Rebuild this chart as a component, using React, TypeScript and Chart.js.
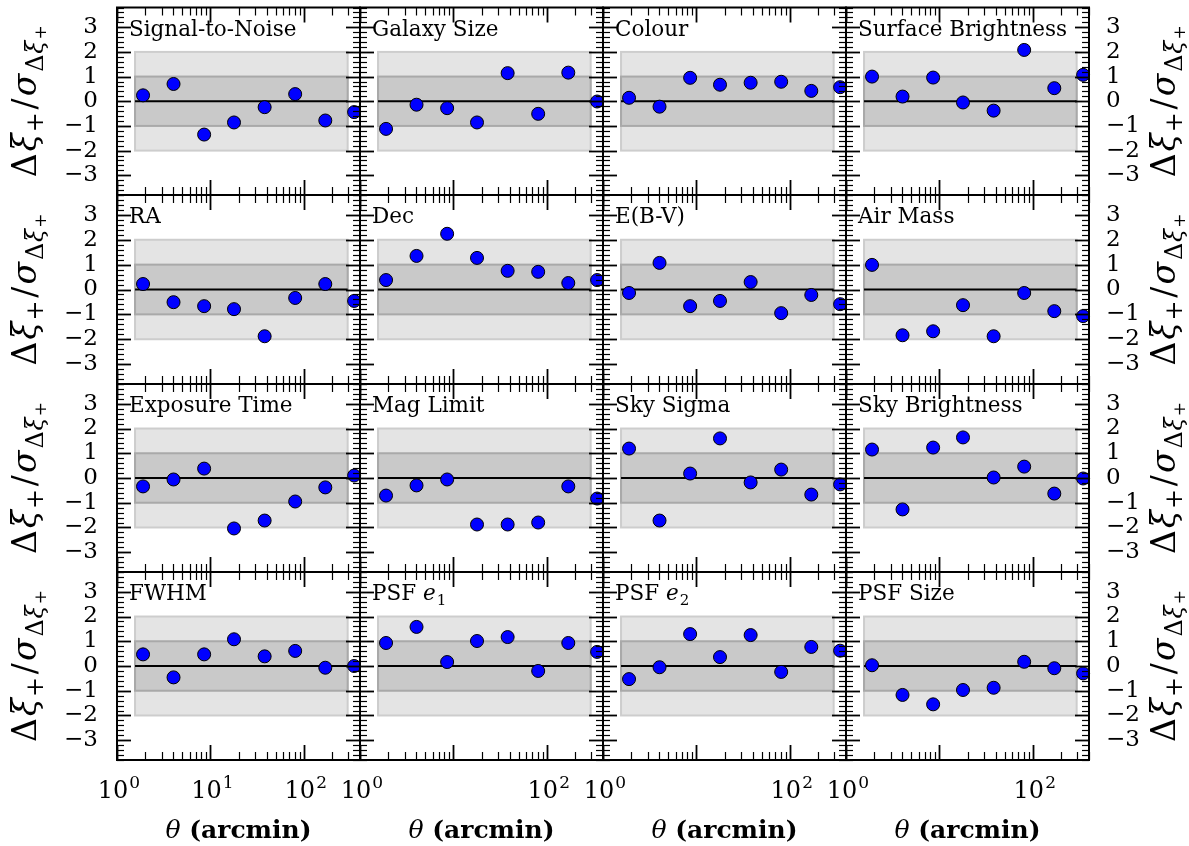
import React, { useEffect, useRef } from 'react';
import { Chart, registerables } from 'chart.js';

Chart.register(...registerables);

// ---------------- data ----------------
const THETA = [1.9, 4.03, 8.57, 17.9, 38.1, 80.9, 170, 346];

const PANEL_TITLES = [
  'Signal-to-Noise', 'Galaxy Size', 'Colour', 'Surface Brightness',
  'RA', 'Dec', 'E(B-V)', 'Air Mass',
  'Exposure Time', 'Mag Limit', 'Sky Sigma', 'Sky Brightness',
  'FWHM', 'PSF e₁', 'PSF e₂', 'PSF Size',
];

const SIGNAL_TO_NOISE = [0.24, 0.7, -1.35, -0.86, -0.24, 0.29, -0.78, -0.44];
const GALAXY_SIZE = [-1.12, -0.14, -0.28, -0.86, 1.14, -0.51, 1.16, -0.01];
const COLOUR = [0.14, -0.22, 0.95, 0.67, 0.75, 0.79, 0.42, 0.57];
const SURFACE_BRIGHTNESS = [1.0, 0.19, 0.96, -0.05, -0.38, 2.08, 0.53, 1.07];
const RA = [0.22, -0.51, -0.67, -0.79, -1.88, -0.34, 0.22, -0.46];
const DEC = [0.38, 1.35, 2.24, 1.27, 0.75, 0.71, 0.26, 0.38];
const EBV = [-0.14, 1.07, -0.67, -0.46, 0.3, -0.95, -0.22, -0.59];
const AIR_MASS = [0.99, -1.84, -1.68, -0.63, -1.88, -0.14, -0.87, -1.07];
const EXPOSURE_TIME = [-0.34, -0.06, 0.38, -2.04, -1.72, -0.95, -0.38, 0.1];
const MAG_LIMIT = [-0.71, -0.3, -0.06, -1.88, -1.88, -1.8, -0.34, -0.83];
const SKY_SIGMA = [1.19, -1.72, 0.18, 1.6, -0.18, 0.34, -0.67, -0.26];
const SKY_BRIGHTNESS = [1.15, -1.27, 1.23, 1.64, 0.02, 0.46, -0.63, -0.02];
const FWHM = [0.47, -0.46, 0.47, 1.08, 0.39, 0.61, -0.07, 0.0];
const PSF_E1 = [0.93, 1.58, 0.16, 1.01, 1.17, -0.2, 0.93, 0.57];
const PSF_E2 = [-0.53, -0.05, 1.29, 0.36, 1.25, -0.24, 0.77, 0.62];
const PSF_SIZE = [0.03, -1.17, -1.55, -0.97, -0.88, 0.17, -0.09, -0.3];

const PANEL_VALUES = [
  SIGNAL_TO_NOISE, GALAXY_SIZE, COLOUR, SURFACE_BRIGHTNESS,
  RA, DEC, EBV, AIR_MASS,
  EXPOSURE_TIME, MAG_LIMIT, SKY_SIGMA, SKY_BRIGHTNESS,
  FWHM, PSF_E1, PSF_E2, PSF_SIZE,
];

const X_RANGE = [1, 400];
const Y_RANGE = [-3.8, 3.8];
const Y_TICKS = [-3, -2, -1, 0, 1, 2, 3];
const Y_TICK_LABELS = ['−3', '−2', '−1', '0', '1', '2', '3'];
const Y_MINOR_STEP = 0.2;
const X_MAJOR = [1, 10, 100];
const X_TICK_BASE = '10';
const X_TICK_EXP_FIRST = ['0', '1', '2'];
const X_TICK_EXP_OTHER = ['0', '', '2'];
const BAND_X = [1.56, 295];
const BAND_LEVELS = [2, 1];
const ZERO_LEVEL = 0;
const X_TITLE = ['θ', ' (arcmin)'];

// ---------------- layout / style ----------------
const W = 1189;
const H = 846;
const COL_EDGES = [117, 360, 603, 846, 1089];
const ROW_EDGES = [7, 195, 384, 572, 760];
const Y_AXIS_W = 70;
const FONT = "'DejaVu Serif'";
const BAND_FILL = ['#e4e4e4', '#c9c9c9'];
const BAND_EDGE = ['#cdcdcd', '#a9a9a9'];

const SUBS: Record<string, string> = { '₁': '1', '₂': '2' };

function drawTitle(ctx: CanvasRenderingContext2D, text: string, x: number, y: number, size: number) {
  const chars = Array.from(text);
  let cx = x;
  let run = '';
  const flush = () => {
    if (!run) return;
    ctx.font = `${size}px ${FONT}`;
    ctx.fillText(run, cx, y);
    cx += ctx.measureText(run).width;
    run = '';
  };
  for (let i = 0; i < chars.length; i++) {
    const ch = chars[i];
    if (SUBS[ch]) {
      flush();
      ctx.font = `${size * 0.7}px ${FONT}`;
      ctx.fillText(SUBS[ch], cx + 1, y + size * 0.22);
      cx += ctx.measureText(SUBS[ch]).width + 1;
    } else if (i + 1 < chars.length && SUBS[chars[i + 1]]) {
      flush();
      ctx.font = `italic ${size}px ${FONT}`;
      ctx.fillText(ch, cx, y);
      cx += ctx.measureText(ch).width;
    } else {
      run += ch;
    }
  }
  flush();
}

function drawYTitle(ctx: CanvasRenderingContext2D, bx: number, cy: number) {
  const F = 33;
  const pieces = [
    { t: 'Δ', s: F, it: false, dy: 0, pre: 0 },
    { t: 'ξ', s: F, it: true, dy: 0, pre: 2 },
    { t: '+', s: F * 0.72, it: false, dy: F * 0.2, pre: 1 },
    { t: '/', s: F, it: false, dy: 0, pre: 3 },
    { t: 'σ', s: F, it: true, dy: 0, pre: 2 },
    { t: 'Δ', s: F * 0.72, it: false, dy: F * 0.2, pre: 2 },
    { t: 'ξ', s: F * 0.72, it: true, dy: F * 0.2, pre: 1 },
    { t: '+', s: F * 0.52, it: false, dy: F * 0.3, pre: 1 },
  ];
  ctx.save();
  ctx.translate(bx, cy);
  ctx.rotate(-Math.PI / 2);
  ctx.textBaseline = 'alphabetic';
  ctx.textAlign = 'left';
  let total = 0;
  const widths = pieces.map((p) => {
    ctx.font = `${p.it ? 'italic ' : ''}${p.s}px ${FONT}`;
    const w = ctx.measureText(p.t).width + p.pre;
    total += w;
    return w;
  });
  let x = -total / 2;
  pieces.forEach((p, i) => {
    ctx.font = `${p.it ? 'italic ' : ''}${p.s}px ${FONT}`;
    ctx.fillText(p.t, x + p.pre, p.dy);
    x += widths[i];
  });
  ctx.restore();
}

function Panel({ index }: { index: number }) {
  const ref = useRef<HTMLCanvasElement | null>(null);
  useEffect(() => {
    const r = Math.floor(index / 4);
    const c = index % 4;
    const left = COL_EDGES[c];
    const right = COL_EDGES[c + 1];
    const top = ROW_EDGES[r];
    const bottom = ROW_EDGES[r + 1];
    const values = PANEL_VALUES[index];
    const xExps = c === 0 ? X_TICK_EXP_FIRST : X_TICK_EXP_OTHER;
    const yLabelled = c === 0 || c === 3;
    const xLabelled = r === 3;
    const yW = yLabelled ? Y_AXIS_W : 0;

    const deco = {
      id: 'deco' + index,
      beforeDatasetsDraw(chart: any) {
        const { ctx, scales } = chart;
        const xs = scales.x;
        const ys = scales.y;
        const x0 = xs.getPixelForValue(BAND_X[0]);
        const x1 = xs.getPixelForValue(BAND_X[1]);
        ctx.save();
        BAND_LEVELS.forEach((lv, i) => {
          const yt = ys.getPixelForValue(lv);
          const yb = ys.getPixelForValue(-lv);
          ctx.fillStyle = BAND_FILL[i];
          ctx.fillRect(x0, yt, x1 - x0, yb - yt);
          ctx.strokeStyle = BAND_EDGE[i];
          ctx.lineWidth = 2;
          ctx.strokeRect(x0, yt, x1 - x0, yb - yt);
        });
        ctx.restore();
      },
      afterDraw(chart: any) {
        const { ctx, scales, chartArea } = chart;
        const xs = scales.x;
        const ys = scales.y;
        const { left: L, right: R, top: T, bottom: B } = chartArea;
        ctx.save();
        ctx.strokeStyle = '#000';
        ctx.lineCap = 'butt';
        const line = (a: number, b: number, c2: number, d: number, w: number) => {
          ctx.lineWidth = w;
          ctx.beginPath();
          ctx.moveTo(a, b);
          ctx.lineTo(c2, d);
          ctx.stroke();
        };
        // y ticks (major and minor, inward on both sides)
        const nMinor = Math.round((Y_RANGE[1] - Y_RANGE[0]) / Y_MINOR_STEP);
        for (let k = 0; k <= nMinor; k++) {
          const v = +(Y_RANGE[0] + k * Y_MINOR_STEP).toFixed(3);
          const isMajor = Y_TICKS.some((t) => Math.abs(t - v) < 1e-6);
          const py = Math.round(ys.getPixelForValue(v)) + 0.5;
          const len = isMajor ? 14 : 7;
          const w = isMajor ? 1.8 : 1.2;
          line(L, py, L + len, py, w);
          line(R, py, R - len, py, w);
        }
        // x ticks (log major + minor, inward top and bottom)
        const xt: { v: number; major: boolean }[] = [];
        X_MAJOR.forEach((d) => {
          xt.push({ v: d, major: true });
          for (let k = 2; k <= 9; k++) if (k * d <= X_RANGE[1]) xt.push({ v: k * d, major: false });
        });
        xt.forEach(({ v, major }) => {
          const px = Math.round(xs.getPixelForValue(v)) + 0.5;
          const len = major ? 15 : 8;
          const w = major ? 1.8 : 1.2;
          line(px, B, px, B - len, w);
          line(px, T, px, T + len, w);
        });
        // spines
        ctx.lineWidth = 2;
        ctx.strokeRect(L, T, R - L, B - T);
        // panel title
        ctx.fillStyle = '#000';
        ctx.textAlign = 'left';
        ctx.textBaseline = 'alphabetic';
        drawTitle(ctx, PANEL_TITLES[index], L + 12, T + 28, 21.5);
        // y axis titles
        const cy = (T + B) / 2;
        if (c === 0) drawYTitle(ctx, 36, cy);
        if (c === 3) drawYTitle(ctx, 1175, cy);
        if (xLabelled) {
          // x tick labels 10^n at the log-scale tick positions
          X_MAJOR.forEach((v, i) => {
            const exp = xExps[i];
            if (!exp) return;
            const px = xs.getPixelForValue(v);
            ctx.font = `24px ${FONT}`;
            const wb = ctx.measureText(X_TICK_BASE).width;
            ctx.font = `17px ${FONT}`;
            const we = ctx.measureText(exp).width;
            const x0 = px - (wb + we + 1) / 2 + 2;
            ctx.font = `24px ${FONT}`;
            ctx.fillText(X_TICK_BASE, x0, 798);
            ctx.font = `17px ${FONT}`;
            ctx.fillText(exp, x0 + wb + 1, 788);
          });
          // x axis title
          const cx = (L + R) / 2;
          ctx.font = `italic 25px ${FONT}`;
          const w1 = ctx.measureText(X_TITLE[0]).width;
          ctx.font = `bold 25px ${FONT}`;
          const w2 = ctx.measureText(X_TITLE[1]).width;
          let x = cx - (w1 + w2) / 2;
          const by = 838;
          ctx.font = `italic 25px ${FONT}`;
          ctx.fillText(X_TITLE[0], x, by);
          x += w1;
          ctx.font = `bold 25px ${FONT}`;
          ctx.fillText(X_TITLE[1], x, by);
        }
        ctx.restore();
      },
    };

    const chart = new Chart(ref.current as HTMLCanvasElement, {
      type: 'scatter',
      data: {
        datasets: [
          {
            type: 'line',
            data: BAND_X.map((x) => ({ x, y: ZERO_LEVEL })),
            borderColor: '#000',
            borderWidth: 2,
            pointRadius: 0,
            showLine: true,
            order: 2,
          } as any,
          {
            type: 'scatter',
            data: THETA.map((x, i) => ({ x, y: values[i] })),
            backgroundColor: '#0000ff',
            borderColor: '#000',
            borderWidth: 1,
            pointRadius: 6.5,
            clip: false,
            order: 1,
          } as any,
        ],
      },
      options: {
        responsive: false,
        animation: false,
        devicePixelRatio: 1,
        events: [],
        layout: {
          padding: {
            left: left - (c === 0 ? yW : 0),
            top,
            right: W - right - (c === 3 ? yW : 0),
            bottom: H - bottom,
          },
        },
        plugins: { legend: { display: false }, tooltip: { enabled: false } },
        scales: {
          x: {
            type: 'logarithmic',
            min: X_RANGE[0],
            max: X_RANGE[1],
            position: 'bottom',
            grid: { display: false, drawTicks: false },
            border: { display: false },
            ticks: { display: false },
            afterBuildTicks: (s: any) => {
              s.ticks = X_MAJOR.map((v) => ({ value: v }));
            },
            afterFit: (s: any) => {
              s.height = 0;
              s.paddingLeft = 0;
              s.paddingRight = 0;
              s.paddingTop = 0;
              s.paddingBottom = 0;
            },
          },
          y: {
            type: 'linear',
            min: Y_RANGE[0],
            max: Y_RANGE[1],
            position: c === 3 ? 'right' : 'left',
            grid: { display: false, drawTicks: false },
            border: { display: false },
            ticks: {
              display: yLabelled,
              padding: c === 3 ? 17 : 19,
              color: '#000',
              font: { family: FONT, size: 23 },
              callback: (_v: any, i: number) => Y_TICK_LABELS[i],
            },
            afterBuildTicks: (s: any) => {
              s.ticks = Y_TICKS.map((v) => ({ value: v }));
            },
            afterFit: (s: any) => {
              s.width = yW;
              s.paddingLeft = 0;
              s.paddingRight = 0;
              s.paddingTop = 0;
              s.paddingBottom = 0;
            },
          },
        },
      } as any,
      plugins: [deco],
    });
    return () => chart.destroy();
  }, [index]);
  return (
    <canvas
      ref={ref}
      width={W}
      height={H}
      style={{ position: 'absolute', left: 0, top: 0, width: W, height: H }}
    />
  );
}

export default function App() {
  return (
    <div
      style={{
        position: 'absolute',
        left: 0,
        top: 0,
        width: W,
        height: H,
        background: '#fff',
        overflow: 'hidden',
      }}
    >
      {PANEL_VALUES.map((_v, i) => (
        <Panel key={i} index={i} />
      ))}
    </div>
  );
}
